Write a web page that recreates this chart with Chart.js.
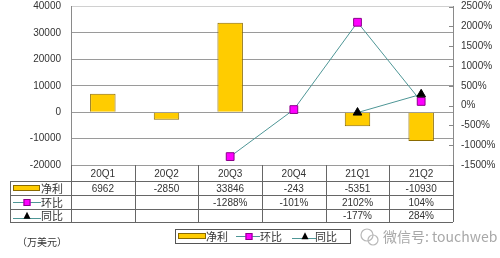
<!DOCTYPE html>
<html>
<head>
<meta charset="utf-8">
<script src="https://cdn.jsdelivr.net/npm/chart.js@4/dist/chart.umd.min.js"></script>
<style>
html,body{margin:0;padding:0;background:#fff;}
#wrap{width:500px;height:258px;position:relative;}
</style>
</head>
<body>
<div id="wrap"><canvas id="c" width="500" height="258"></canvas></div>
<script>
const categories = ['20Q1','20Q2','20Q3','20Q4','21Q1','21Q2'];
const netProfit = [6962, -2850, 33846, -243, -5351, -10930];
const qoq = [null, null, -1288, -101, 2102, 104];
const yoy = [null, null, null, null, -177, 284];
const leftTicks = [40000, 30000, 20000, 10000, 0, -10000, -20000];
const rightTicks = [2500, 2000, 1500, 1000, 500, 0, -500, -1000, -1500];
const seriesNames = ['净利', '环比', '同比'];
const unitLabel = '（万美元）';
const watermark = '微信号: touchweb';

const BAR_FILL = '#FFCC00', BAR_EDGE = '#8a6a00';
const LINE_COL = '#4e9696';
const SQ_FILL = '#FF00FF', SQ_EDGE = '#8a008a';
const TXT = '#333333';
const NUM_FONT = '10px "Liberation Sans", Arial, sans-serif';
const CJK_FONT = '11px "Noto Sans CJK SC", sans-serif';

function fmtPct(v){ return v === null ? '' : v + '%'; }

function drawSquare(ctx, x, y, s){
  ctx.fillStyle = SQ_FILL; ctx.strokeStyle = SQ_EDGE; ctx.lineWidth = 1;
  ctx.fillRect(x - s/2, y - s/2, s, s);
  ctx.strokeRect(x - s/2 + 0.5, y - s/2 + 0.5, s - 1, s - 1);
}
function drawTri(ctx, x, y, s){
  ctx.fillStyle = '#000';
  ctx.beginPath();
  ctx.moveTo(x, y - s*0.6);
  ctx.lineTo(x + s/2, y + s*0.4);
  ctx.lineTo(x - s/2, y + s*0.4);
  ctx.closePath(); ctx.fill();
}
function hline(ctx, x1, x2, y, col){
  ctx.strokeStyle = col || LINE_COL; ctx.lineWidth = 1;
  ctx.beginPath(); ctx.moveTo(x1, y + 0.5); ctx.lineTo(x2, y + 0.5); ctx.stroke();
}

const tablePlugin = {
  id: 'tablePlugin',
  afterDraw(chart){
    const ctx = chart.ctx;
    const xs = chart.scales.x, y1 = chart.scales.y1;
    const ca = chart.chartArea;
    const left = ca.left, right = ca.right, n = categories.length;
    const cw = (right - left) / n;
    const top = ca.bottom;
    const rows = [top, top + 16, top + 30, top + 44, top + 57];
    const tabLeft = 10;
    ctx.save();
    // inner tick marks on right axis
    ctx.strokeStyle = '#888'; ctx.lineWidth = 1;
    rightTicks.forEach(v => {
      const py = Math.round(y1.getPixelForValue(v)) + 0.5;
      ctx.beginPath(); ctx.moveTo(right - 4, py); ctx.lineTo(right, py); ctx.stroke();
    });
    // table grid
    ctx.strokeStyle = '#666'; ctx.lineWidth = 1;
    for (let i = 0; i <= n; i++){
      const x = Math.round(left + i * cw) + 0.5;
      ctx.beginPath(); ctx.moveTo(x, rows[0]); ctx.lineTo(x, rows[4]); ctx.stroke();
    }
    for (let r = 1; r <= 4; r++){
      ctx.beginPath(); ctx.moveTo(tabLeft, rows[r] + 0.5); ctx.lineTo(right, rows[r] + 0.5); ctx.stroke();
    }
    ctx.beginPath(); ctx.moveTo(tabLeft + 0.5, rows[1]); ctx.lineTo(tabLeft + 0.5, rows[4]); ctx.stroke();
    // texts
    ctx.fillStyle = TXT; ctx.textAlign = 'center'; ctx.textBaseline = 'middle';
    ctx.font = NUM_FONT;
    for (let i = 0; i < n; i++){
      const cx = xs.getPixelForValue(i);
      ctx.fillText(categories[i], cx, (rows[0] + rows[1]) / 2 + 1);
      ctx.fillText(String(netProfit[i]), cx, (rows[1] + rows[2]) / 2 + 1);
      ctx.fillText(fmtPct(qoq[i]), cx, (rows[2] + rows[3]) / 2 + 1);
      ctx.fillText(fmtPct(yoy[i]), cx, (rows[3] + rows[4]) / 2 + 1);
    }
    // row headers
    const ry = [(rows[1]+rows[2])/2, (rows[2]+rows[3])/2, (rows[3]+rows[4])/2];
    ctx.fillStyle = BAR_FILL; ctx.strokeStyle = BAR_EDGE;
    ctx.fillRect(13, ry[0] - 3, 27, 6); ctx.strokeRect(13.5, ry[0] - 2.5, 26, 5);
    hline(ctx, 13, 41, Math.round(ry[1]));
    drawSquare(ctx, 27, ry[1] + 0.5, 7);
    hline(ctx, 13, 41, Math.round(ry[2]) + 2);
    drawTri(ctx, 27, ry[2] + 0.5, 7);
    ctx.fillStyle = TXT; ctx.textAlign = 'left'; ctx.font = CJK_FONT;
    seriesNames.forEach((s, k) => ctx.fillText(s, 41, ry[k] + 0.5));
    // unit label
    ctx.font = '10px "Noto Sans CJK SC", sans-serif';
    ctx.fillText(unitLabel, 17, 242);
    // legend
    const ly = 236;
    ctx.strokeStyle = '#555'; ctx.strokeRect(175.5, 229.5, 175, 14);
    ctx.fillStyle = BAR_FILL; ctx.strokeStyle = BAR_EDGE;
    ctx.fillRect(178, ly - 3, 28, 6); ctx.strokeRect(178.5, ly - 2.5, 27, 5);
    ctx.fillStyle = TXT; ctx.font = CJK_FONT;
    ctx.fillText(seriesNames[0], 206, ly + 0.5);
    hline(ctx, 236, 260, ly);
    drawSquare(ctx, 249, ly + 0.5, 7);
    ctx.fillStyle = TXT; ctx.fillText(seriesNames[1], 260, ly + 0.5);
    hline(ctx, 292, 316, ly + 2);
    drawTri(ctx, 305, ly + 0.5, 7);
    ctx.fillStyle = TXT; ctx.fillText(seriesNames[2], 315, ly + 0.5);
    // watermark
    ctx.strokeStyle = '#b8b8b8'; ctx.lineWidth = 1.2;
    ctx.beginPath(); ctx.arc(367, 235, 6, 0, Math.PI*2); ctx.stroke();
    ctx.beginPath(); ctx.arc(373, 240, 5, 0, Math.PI*2); ctx.stroke();
    ctx.fillStyle = '#a8a8a8'; ctx.font = '14px "Noto Sans CJK SC", sans-serif';
    ctx.fillText(watermark, 383, 237);
    ctx.restore();
  }
};

new Chart(document.getElementById('c'), {
  type: 'bar',
  data: {
    labels: categories,
    datasets: [
      { type: 'line', label: seriesNames[2], data: yoy, yAxisID: 'y1', order: 0,
        borderColor: LINE_COL, borderWidth: 1, pointStyle: 'triangle', pointRadius: 5,
        pointBackgroundColor: '#000', pointBorderColor: '#000', pointBorderWidth: 1,
        tension: 0, spanGaps: false, fill: false },
      { type: 'line', label: seriesNames[1], data: qoq, yAxisID: 'y1', order: 1,
        borderColor: LINE_COL, borderWidth: 1, pointStyle: 'rect', pointRadius: 5.5,
        pointBackgroundColor: SQ_FILL, pointBorderColor: SQ_EDGE, pointBorderWidth: 1,
        tension: 0, spanGaps: false, fill: false },
      { type: 'bar', label: seriesNames[0], data: netProfit, yAxisID: 'y', order: 2,
        backgroundColor: BAR_FILL, borderColor: BAR_EDGE, borderWidth: 1,
        barPercentage: 0.4, categoryPercentage: 1 }
    ]
  },
  options: {
    responsive: false,
    animation: false,
    layout: { padding: { top: 6, bottom: 93, left: 0, right: 0 } },
    plugins: { legend: { display: false }, tooltip: { enabled: false } },
    scales: {
      x: { display: false, offset: true },
      y: {
        position: 'left', min: -20000, max: 40000,
        afterFit(s){ s.width = 71; s.paddingTop = 0; s.paddingBottom = 0; },
        afterBuildTicks(s){ s.ticks = leftTicks.map(v => ({ value: v })); },
        ticks: { color: TXT, font: { family: '"Liberation Sans", Arial, sans-serif', size: 10 }, padding: 10,
                 callback: v => String(v) },
        grid: { drawTicks: false, color: c => (c.tick && c.tick.value === 40000) ? '#d0d0d0' : '#9a9a9a', lineWidth: 1 },
        border: { display: true, color: '#8a8a8a' }
      },
      y1: {
        position: 'right', min: -1500, max: 2500,
        afterFit(s){ s.width = 47; s.paddingTop = 0; s.paddingBottom = 0; },
        afterBuildTicks(s){ s.ticks = rightTicks.map(v => ({ value: v })); },
        ticks: { color: TXT, font: { family: '"Liberation Sans", Arial, sans-serif', size: 10 }, padding: 8,
                 callback: v => v + '%' },
        grid: { drawOnChartArea: false, drawTicks: false },
        border: { display: true, color: '#8a8a8a' }
      }
    }
  },
  plugins: [tablePlugin]
});
</script>
</body>
</html>
